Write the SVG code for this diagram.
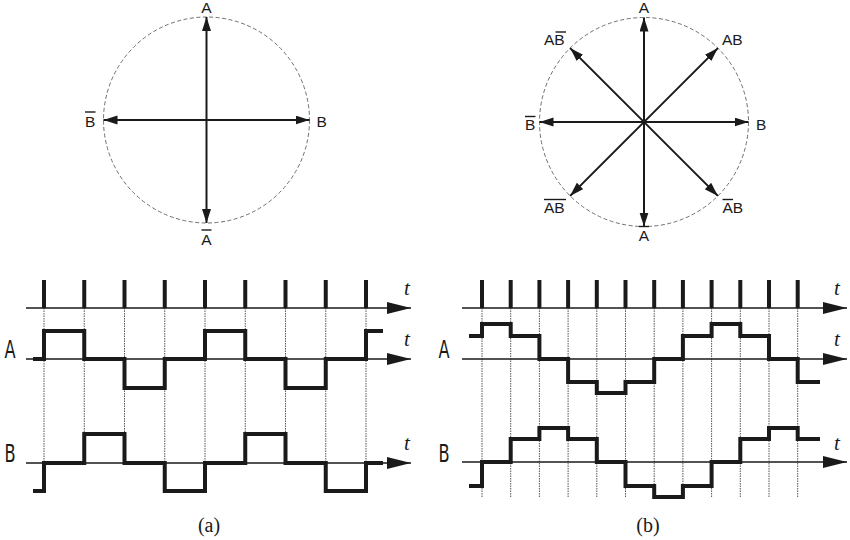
<svg xmlns="http://www.w3.org/2000/svg" width="850" height="540" viewBox="0 0 850 540">
<style>
.circ{fill:none;stroke:#6e6e6e;stroke-width:1;stroke-dasharray:4 2.5}
.vec{stroke:#1a1a1a;stroke-width:2;fill:none;marker-start:url(#ah);marker-end:url(#ah)}
.lbl{font-family:"Liberation Sans",Arial,sans-serif;font-size:15.5px;fill:#1a1a1a}
.ol{stroke:#1a1a1a;stroke-width:1.4}
.axis{stroke:#1a1a1a;stroke-width:1.3;fill:none;marker-end:url(#ax)}
.pulse{stroke:#1a1a1a;stroke-width:4}
.dot{stroke:#555;stroke-width:1;stroke-dasharray:1.5 1}
.wave{fill:none;stroke:#1a1a1a;stroke-width:4;stroke-linejoin:miter}
.t{font-family:"Liberation Serif","Times New Roman",serif;font-style:italic;font-size:21px;fill:#1a1a1a}
.sig{font-family:"DejaVu Sans Condensed","Liberation Sans",sans-serif;font-size:25px;fill:#1a1a1a}
.cap{font-family:"Liberation Serif","Times New Roman",serif;font-size:20px;fill:#1a1a1a}
</style>
<defs>
<marker id="ah" markerUnits="userSpaceOnUse" markerWidth="15" markerHeight="10" refX="14" refY="4.5" orient="auto-start-reverse"><path d="M0,0 L14,4.5 L0,9 z" fill="#1a1a1a"/></marker>
<marker id="ax" markerUnits="userSpaceOnUse" markerWidth="25" markerHeight="13" refX="24" refY="6" orient="auto"><path d="M0,0 L24,6 L0,12 z" fill="#1a1a1a"/></marker>
</defs>

<g id="phasor-a">
<circle class="circ" cx="206.5" cy="120" r="103"/>
<g id="connectors-a">
<line class="vec" x1="206.5" y1="17" x2="206.5" y2="223"/>
<line class="vec" x1="103.5" y1="120" x2="309.5" y2="120"/>
</g>
<text class="lbl" x="206.5" y="13" text-anchor="middle">A</text>
<text class="lbl" x="206.5" y="245" text-anchor="middle">A</text>
<line class="ol" x1="201.5" y1="230" x2="211.5" y2="230"/>
<text class="lbl" x="316.5" y="126.5">B</text>
<text class="lbl" x="85" y="126.5">B</text>
<line class="ol" x1="85" y1="112" x2="95.5" y2="112"/>
</g>

<g id="phasor-b">
<circle class="circ" cx="644" cy="122" r="104.5"/>
<g id="connectors-b">
<line class="vec" x1="644" y1="17.5" x2="644" y2="226.5"/>
<line class="vec" x1="539.5" y1="122" x2="748.5" y2="122"/>
<line class="vec" x1="570.1" y1="195.9" x2="717.9" y2="48.1"/>
<line class="vec" x1="717.9" y1="195.9" x2="570.1" y2="48.1"/>
</g>
<circle cx="644" cy="122" r="1.6" fill="#1a1a1a"/>
<text class="lbl" x="644" y="13" text-anchor="middle">A</text>
<text class="lbl" x="644" y="240.5" text-anchor="middle">A</text>
<line class="ol" x1="639" y1="226.5" x2="649" y2="226.5"/>
<text class="lbl" x="756" y="129.5">B</text>
<text class="lbl" x="525" y="129.5">B</text>
<line class="ol" x1="525" y1="116.5" x2="535.5" y2="116.5"/>
<text class="lbl" x="544" y="45">AB</text>
<line class="ol" x1="555.5" y1="32" x2="566" y2="32"/>
<text class="lbl" x="722" y="45">AB</text>
<text class="lbl" x="544" y="213">AB</text>
<line class="ol" x1="544" y1="199.5" x2="566" y2="199.5"/>
<text class="lbl" x="722.5" y="213">AB</text>
<line class="ol" x1="722.5" y1="199.5" x2="733" y2="199.5"/>
</g>

<g id="timing-a">
<g id="grid-a">
<line class="dot" x1="44" y1="308" x2="44" y2="463"/>
<line class="dot" x1="84.25" y1="308" x2="84.25" y2="463"/>
<line class="dot" x1="124.5" y1="308" x2="124.5" y2="463"/>
<line class="dot" x1="164.75" y1="308" x2="164.75" y2="463"/>
<line class="dot" x1="205" y1="308" x2="205" y2="463"/>
<line class="dot" x1="245.25" y1="308" x2="245.25" y2="463"/>
<line class="dot" x1="285.5" y1="308" x2="285.5" y2="463"/>
<line class="dot" x1="325.75" y1="308" x2="325.75" y2="463"/>
<line class="dot" x1="366" y1="308" x2="366" y2="463"/>
</g>
<line class="axis" x1="26" y1="308" x2="411" y2="308"/>
<line class="axis" x1="26" y1="359" x2="411" y2="359"/>
<line class="axis" x1="26" y1="463" x2="411" y2="463"/>
<g id="clock-a">
<line class="pulse" x1="44" y1="280" x2="44" y2="308"/>
<line class="pulse" x1="84.25" y1="280" x2="84.25" y2="308"/>
<line class="pulse" x1="124.5" y1="280" x2="124.5" y2="308"/>
<line class="pulse" x1="164.75" y1="280" x2="164.75" y2="308"/>
<line class="pulse" x1="205" y1="280" x2="205" y2="308"/>
<line class="pulse" x1="245.25" y1="280" x2="245.25" y2="308"/>
<line class="pulse" x1="285.5" y1="280" x2="285.5" y2="308"/>
<line class="pulse" x1="325.75" y1="280" x2="325.75" y2="308"/>
<line class="pulse" x1="366" y1="280" x2="366" y2="308"/>
</g>
<path id="wave-a-A" class="wave" d="M33,359 H44 V331 H84.25 V359 H124.5 V388 H164.75 V359 H205 V331 H245.25 V359 H285.5 V388 H325.75 V359 H366 V331 H383"/>
<path id="wave-a-B" class="wave" d="M33,491 H44 V463 H84.25 V434 H124.5 V463 H164.75 V491 H205 V463 H245.25 V434 H285.5 V463 H325.75 V491 H366 V463 H383"/>
<text class="t" x="407" y="295" text-anchor="middle">t</text>
<text class="t" x="407" y="346" text-anchor="middle">t</text>
<text class="t" x="407" y="450" text-anchor="middle">t</text>
<text class="sig" transform="translate(10,358) scale(0.72,1)" text-anchor="middle">A</text>
<text class="sig" transform="translate(10,462) scale(0.72,1)" text-anchor="middle">B</text>
<text class="cap" x="209" y="532" text-anchor="middle">(a)</text>
</g>

<g id="timing-b">
<g id="grid-b">
<line class="dot" x1="482" y1="308" x2="482" y2="498"/>
<line class="dot" x1="510.7" y1="308" x2="510.7" y2="498"/>
<line class="dot" x1="539.4" y1="308" x2="539.4" y2="498"/>
<line class="dot" x1="568.1" y1="308" x2="568.1" y2="498"/>
<line class="dot" x1="596.8" y1="308" x2="596.8" y2="498"/>
<line class="dot" x1="625.5" y1="308" x2="625.5" y2="498"/>
<line class="dot" x1="654.2" y1="308" x2="654.2" y2="498"/>
<line class="dot" x1="682.9" y1="308" x2="682.9" y2="498"/>
<line class="dot" x1="711.6" y1="308" x2="711.6" y2="498"/>
<line class="dot" x1="740.3" y1="308" x2="740.3" y2="498"/>
<line class="dot" x1="769" y1="308" x2="769" y2="498"/>
<line class="dot" x1="797.7" y1="308" x2="797.7" y2="498"/>
</g>
<line class="axis" x1="462" y1="308" x2="847" y2="308"/>
<line class="axis" x1="462" y1="359" x2="847" y2="359"/>
<line class="axis" x1="462" y1="462" x2="847" y2="462"/>
<g id="clock-b">
<line class="pulse" x1="482" y1="280" x2="482" y2="308"/>
<line class="pulse" x1="510.7" y1="280" x2="510.7" y2="308"/>
<line class="pulse" x1="539.4" y1="280" x2="539.4" y2="308"/>
<line class="pulse" x1="568.1" y1="280" x2="568.1" y2="308"/>
<line class="pulse" x1="596.8" y1="280" x2="596.8" y2="308"/>
<line class="pulse" x1="625.5" y1="280" x2="625.5" y2="308"/>
<line class="pulse" x1="654.2" y1="280" x2="654.2" y2="308"/>
<line class="pulse" x1="682.9" y1="280" x2="682.9" y2="308"/>
<line class="pulse" x1="711.6" y1="280" x2="711.6" y2="308"/>
<line class="pulse" x1="740.3" y1="280" x2="740.3" y2="308"/>
<line class="pulse" x1="769" y1="280" x2="769" y2="308"/>
<line class="pulse" x1="797.7" y1="280" x2="797.7" y2="308"/>
</g>
<path id="wave-b-A" class="wave" d="M469,336 H482 V324 H510.7 V336 H539.4 V359 H568.1 V382 H596.8 V393 H625.5 V382 H654.2 V359 H682.9 V336 H711.6 V324 H740.3 V336 H769 V359 H797.7 V382 H820"/>
<path id="wave-b-B" class="wave" d="M469,486 H482 V462 H510.7 V439 H539.4 V428 H568.1 V439 H596.8 V462 H625.5 V486 H654.2 V497 H682.9 V486 H711.6 V462 H740.3 V439 H769 V428 H797.7 V439 H820"/>
<text class="t" x="837" y="295" text-anchor="middle">t</text>
<text class="t" x="837" y="346" text-anchor="middle">t</text>
<text class="t" x="837" y="450" text-anchor="middle">t</text>
<text class="sig" transform="translate(444,358) scale(0.72,1)" text-anchor="middle">A</text>
<text class="sig" transform="translate(444,462) scale(0.72,1)" text-anchor="middle">B</text>
<text class="cap" x="648" y="532" text-anchor="middle">(b)</text>
</g>
</svg>
